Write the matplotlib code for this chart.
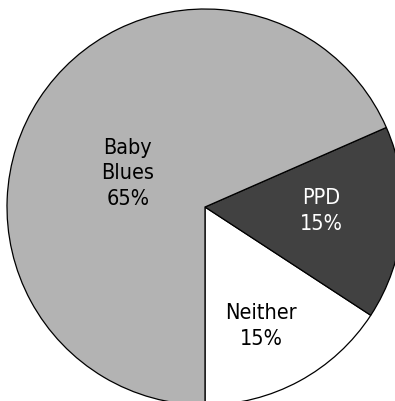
import matplotlib.pyplot as plt

# share of new mothers in each group
groups = ["Neither", "PPD", "Baby\nBlues"]
percents = [15, 15, 65]

colors = ["#ffffff", "#414141", "#b3b3b3"]
text_colors = ["black", "white", "black"]
# where each label sits inside its wedge (radius = 1)
label_xy = [(0.285, -0.60), (0.586, -0.02), (-0.389, 0.17)]

fig = plt.figure(figsize=(3.95, 4.01), dpi=100)
ax = fig.add_axes([7 / 395, -4 / 401, 396 / 395, 396 / 401])

wedges, _ = ax.pie(percents, colors=colors, startangle=-90, counterclock=True,
                   radius=1.0,
                   wedgeprops=dict(edgecolor="black", linewidth=0.9))

for name, pct, tc, (x, y) in zip(groups, percents, text_colors, label_xy):
    ax.text(x, y, f"{name}\n{pct}%",
            ha="center", va="center", fontsize=15.5, color=tc,
            linespacing=1.36, fontstretch="condensed",
            family=["DejaVu Sans"])

ax.set_xlim(-1, 1)
ax.set_ylim(-1, 1)
ax.set_aspect("equal")
ax.axis("off")

fig.savefig("out.png", dpi=100)
